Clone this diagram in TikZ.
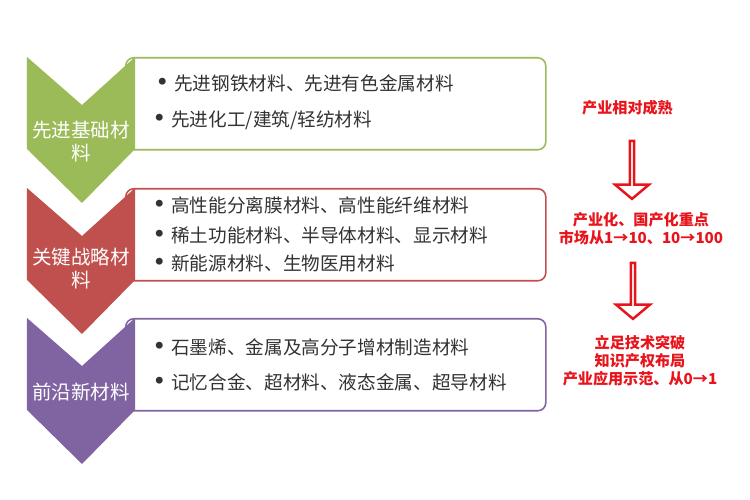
\documentclass[tikz,border=0pt]{standalone}
\usepackage{fontspec}
\setmainfont{Noto Sans CJK SC}
\newfontfamily\dejavu{DejaVu Sans}
\usepackage{tikz}
\usetikzlibrary{shapes.arrows}
\definecolor{jichu}{HTML}{9BBB59}
\definecolor{zhanlue}{HTML}{C0504D}
\definecolor{qianyan}{HTML}{8064A2}
\definecolor{wenzi}{HTML}{333333}
\definecolor{hong}{RGB}{232,20,27}
\newcommand{\dian}{{\dejavu\fontsize{13.5}{12}\selectfont •}\hspace{0.1cm}}

\begin{document}
\begin{tikzpicture}[
        kuang/.style={draw,line width=0.9pt,fill=white,rounded corners=0.16cm,
                minimum width=8.4cm,minimum height=1.84cm,anchor=north west,inner sep=0pt},
        tiao/.style={anchor=west,inner sep=0pt,text=wenzi,font=\fontsize{10.6}{12}\selectfont},
        biaoti/.style={align=center,inner sep=0pt,text=white,font=\fontsize{11.1}{13}\selectfont},
        shuoming/.style={align=center,inner sep=0pt,text=hong,font=\fontsize{8.6}{10.2}\selectfont\bfseries},
        jiantou/.style={single arrow,shape border rotate=270,draw=hong,line width=1.4pt,fill=white,
                minimum height=1.16cm,minimum width=0.68cm,single arrow head extend=0.17cm,
                single arrow tip angle=100,inner sep=0pt}
        ]
                \useasboundingbox (0,0) rectangle (15,10);

                % 三个方框
                \node[kuang,draw=jichu] (kuang1) at (2.5,8.86) {};
                \node[kuang,draw=zhanlue] (kuang2) at (2.5,6.24) {};
                \node[kuang,draw=qianyan] (kuang3) at (2.5,3.64) {};

                % 左边的箭头块
                \fill[jichu] (0.54,8.86) -- (1.64,7.90) -- (2.70,8.86) -- (2.70,7.02) -- (1.64,5.94) -- (0.54,7.02) -- cycle;
                \fill[zhanlue] (0.54,6.24) -- (1.64,5.28) -- (2.70,6.24) -- (2.70,4.40) -- (1.64,3.32) -- (0.54,4.40) -- cycle;
                \fill[qianyan] (0.54,3.64) -- (1.64,2.68) -- (2.70,3.64) -- (2.70,1.80) -- (1.64,0.72) -- (0.54,1.80) -- cycle;

                \draw (1.62,7.17) node[biaoti] (biaoti1) {先进基础材\\料};
                \draw (1.62,4.63) node[biaoti] (biaoti2) {关键战略材\\料};
                \draw (1.62,2.16) node[biaoti] (biaoti3) {前沿新材料};

                % 方框里的条目
                \draw (3.10,8.34) node[tiao] (tiao11) {\dian 先进钢铁材料、先进有色金属材料};
                \draw (3.04,7.60) node[tiao] (tiao12) {\dian 先进化工/建筑/轻纺材料};
                \draw (3.04,5.90) node[tiao] (tiao21) {\dian 高性能分离膜材料、高性能纤维材料};
                \draw (3.04,5.30) node[tiao] (tiao22) {\dian 稀土功能材料、半导体材料、显示材料};
                \draw (3.04,4.74) node[tiao] (tiao23) {\dian 新能源材料、生物医用材料};
                \draw (3.04,3.06) node[tiao] (tiao31) {\dian 石墨烯、金属及高分子增材制造材料};
                \draw (3.04,2.36) node[tiao] (tiao32) {\dian 记忆合金、超材料、液态金属、超导材料};

                % 右边的说明
                \draw (12.55,7.84) node[shuoming] (shuoming1) {产业相对成熟};
                \draw (12.82,5.42) node[shuoming] (shuoming2) {产业化、国产化重点\\市场从1→10、10→100};
                \draw (12.80,2.78) node[shuoming] (shuoming3) {立足技术突破\\知识产权布局\\产业应用示范、从0→1};

                \draw (12.64,6.62) node[jiantou] (jiantou1) {};
                \draw (12.66,4.20) node[jiantou,minimum height=1.12cm] (jiantou2) {};
            \end{tikzpicture}
\end{document}
